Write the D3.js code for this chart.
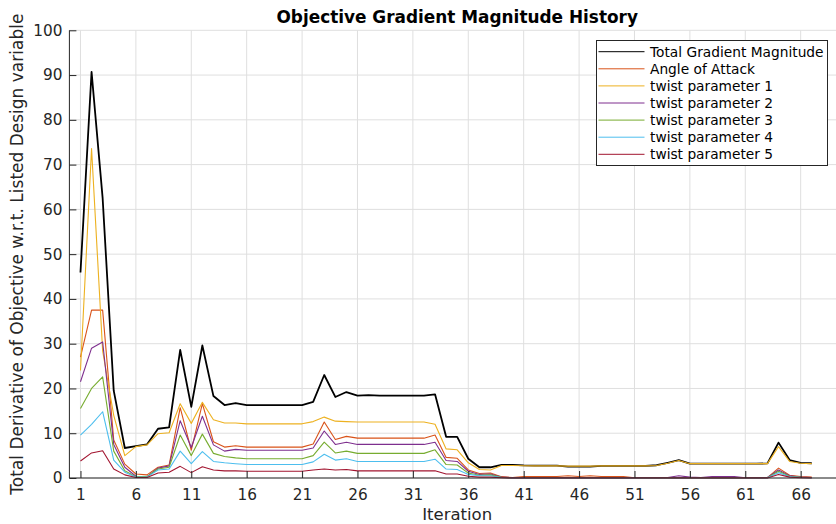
<!DOCTYPE html>
<html>
<head>
<meta charset="utf-8">
<script src="https://cdn.jsdelivr.net/npm/d3@7"></script>
<style>
  html, body { margin: 0; padding: 0; background: #fff; }
  svg { display: block; }
  text { font-family: "DejaVu Sans", sans-serif; }
</style>
</head>
<body>
<svg id="chart" width="836" height="524"></svg>
<script>
// Optimisation history: gradient of the objective per design variable
const iterations = [
  1, 2, 3, 4, 5, 6, 7, 8, 9, 10, 11, 12, 13, 14, 15, 16, 17, 18, 19, 20,
  21, 22, 23, 24, 25, 26, 27, 28, 29, 30, 31, 32, 33, 34, 35, 36, 37, 38, 39, 40,
  41, 42, 43, 44, 45, 46, 47, 48, 49, 50, 51, 52, 53, 54, 55, 56, 57, 58, 59, 60,
  61, 62, 63, 64, 65, 66, 67
];

const totalGradient = [
  45.9, 90.7, 62.5, 19.5, 6.7, 7.1, 7.5, 11.0, 11.3, 28.6,
  15.9, 29.6, 18.3, 16.3, 16.7, 16.3, 16.3, 16.3, 16.3, 16.3,
  16.3, 17.0, 23.0, 18.1, 19.2, 18.4, 18.5, 18.4, 18.4, 18.4,
  18.4, 18.4, 18.7, 9.2, 9.2, 4.3, 2.4, 2.4, 2.95, 2.95,
  2.8, 2.75, 2.75, 2.75, 2.55, 2.55, 2.55, 2.7, 2.7, 2.7,
  2.7, 2.7, 2.85, 3.4, 4.0, 3.2, 3.2, 3.2, 3.2, 3.2,
  3.2, 3.2, 3.25, 7.9, 4.0, 3.4, 3.3
];

const angleOfAttack = [
  27.0, 37.5, 37.5, 8.5, 3.1, 0.9, 0.7, 2.4, 2.9, 15.7,
  6.2, 16.6, 8.1, 6.9, 7.2, 6.9, 6.9, 6.9, 6.9, 6.9,
  6.9, 7.6, 12.5, 8.6, 9.3, 8.9, 8.9, 8.9, 8.9, 8.9,
  8.9, 8.9, 9.6, 4.6, 4.4, 1.8, 1.0, 1.1, 0.3, 0.1,
  0.3, 0.3, 0.35, 0.35, 0.5, 0.35, 0.5, 0.35, 0.3, 0.3,
  0.05, 0.05, 0.05, 0.05, 0.1, 0.05, 0.05, 0.05, 0.05, 0.05,
  0.05, 0.05, 0.1, 2.2, 0.6, 0.3, 0.2
];

const twist1 = [
  24.0, 73.6, 28.4, 14.0, 5.0, 7.0, 7.4, 9.9, 10.1, 16.6,
  12.2, 16.9, 13.0, 12.3, 12.3, 12.1, 12.1, 12.1, 12.1, 12.1,
  12.1, 12.6, 13.6, 12.7, 12.6, 12.5, 12.5, 12.5, 12.5, 12.5,
  12.5, 12.5, 12.0, 6.5, 6.3, 3.4, 1.9, 1.8, 2.8, 2.8,
  2.75, 2.7, 2.7, 2.7, 2.65, 2.65, 2.65, 2.7, 2.7, 2.7,
  2.7, 2.7, 2.8, 3.3, 3.9, 3.2, 3.2, 3.2, 3.2, 3.2,
  3.2, 3.2, 3.2, 7.0, 3.7, 3.3, 3.2
];

const twist2 = [
  21.5, 29.0, 30.4, 7.5, 2.4, 0.4, 0.3, 2.2, 2.7, 12.8,
  6.8, 13.8, 7.4, 6.0, 6.4, 6.2, 6.2, 6.2, 6.2, 6.2,
  6.2, 6.7, 10.5, 7.5, 8.0, 7.5, 7.5, 7.5, 7.5, 7.5,
  7.5, 7.5, 8.0, 3.9, 3.7, 1.5, 0.8, 0.9, 0.2, 0.05,
  0.05, 0.05, 0.05, 0.05, 0.05, 0.05, 0.05, 0.05, 0.05, 0.05,
  0.05, 0.05, 0.05, 0.1, 0.5, 0.2, 0.1, 0.3, 0.3, 0.3,
  0.05, 0.05, 0.1, 1.8, 0.5, 0.2, 0.1
];

const twist3 = [
  15.5, 20.0, 22.6, 6.0, 1.6, 0.3, 0.3, 2.0, 2.4, 9.6,
  5.0, 9.8, 5.5, 4.8, 4.5, 4.3, 4.3, 4.3, 4.3, 4.3,
  4.3, 5.0, 8.0, 5.6, 6.0, 5.5, 5.5, 5.5, 5.5, 5.5,
  5.5, 5.5, 6.3, 3.0, 2.9, 1.1, 0.6, 0.7, 0.15, 0.05,
  0.05, 0.05, 0.05, 0.05, 0.05, 0.05, 0.05, 0.05, 0.05, 0.05,
  0.05, 0.05, 0.05, 0.05, 0.05, 0.05, 0.05, 0.05, 0.05, 0.05,
  0.05, 0.05, 0.05, 1.5, 0.4, 0.15, 0.1
];

const twist4 = [
  9.6, 12.0, 14.8, 4.0, 1.3, 0.2, 0.2, 1.8, 2.0, 6.0,
  3.2, 5.9, 3.7, 3.4, 3.2, 3.0, 3.0, 3.0, 3.0, 3.0,
  3.0, 3.6, 5.3, 4.0, 4.3, 3.7, 3.7, 3.7, 3.7, 3.7,
  3.7, 3.7, 4.2, 2.0, 1.9, 0.8, 0.5, 0.5, 0.1, 0.03,
  0.03, 0.03, 0.03, 0.03, 0.03, 0.03, 0.03, 0.03, 0.03, 0.03,
  0.03, 0.03, 0.03, 0.03, 0.03, 0.03, 0.03, 0.03, 0.03, 0.03,
  0.03, 0.03, 0.03, 1.2, 0.3, 0.1, 0.05
];

const twist5 = [
  3.8, 5.6, 6.1, 2.0, 0.7, 0.1, 0.1, 1.1, 1.3, 2.6,
  1.2, 2.5, 1.8, 1.6, 1.6, 1.5, 1.5, 1.5, 1.5, 1.5,
  1.5, 1.8, 2.0, 1.8, 1.9, 1.6, 1.6, 1.6, 1.6, 1.6,
  1.6, 1.6, 1.6, 0.9, 0.9, 0.4, 0.2, 0.2, 0.05, 0.02,
  0.02, 0.02, 0.02, 0.02, 0.02, 0.02, 0.02, 0.02, 0.02, 0.02,
  0.02, 0.02, 0.02, 0.02, 0.02, 0.02, 0.02, 0.02, 0.02, 0.02,
  0.02, 0.02, 0.02, 0.8, 0.2, 0.05, 0.02
];

const seriesNames = [
  "Total Gradient Magnitude", "Angle of Attack", "twist parameter 1",
  "twist parameter 2", "twist parameter 3", "twist parameter 4", "twist parameter 5"
];
const seriesValues = [totalGradient, angleOfAttack, twist1, twist2, twist3, twist4, twist5];
const seriesColors = ["#000000", "#D95319", "#EDB120", "#7E2F8E", "#77AC30", "#4DBEEE", "#A2142F"];
const seriesWidths = [1.8, 1.1, 1.1, 1.1, 1.1, 1.1, 1.1];

const xTicks = [1, 6, 11, 16, 21, 26, 31, 36, 41, 46, 51, 56, 61, 66];
const yTicks = [0, 10, 20, 30, 40, 50, 60, 70, 80, 90, 100];

const titleText = "Objective Gradient Magnitude History";
const xLabelText = "Iteration";
const yLabelText = "Total Derivative of Objective w.r.t. Listed Design variable";

// ---- layout ----
const plot = { left: 69.4, right: 845, top: 30.3, bottom: 478 };
const axisColor = "#262626";
const gridColor = "#dfdfdf";
const tickLen = 7;

const svg = d3.select("#chart");

const x = d3.scaleLinear().domain([0, 70]).range([plot.left, plot.right]);
const y = d3.scaleLinear().domain([0, 100]).range([plot.bottom, plot.top]);

// grid
const grid = svg.append("g").attr("class", "grid");
grid.selectAll("line.gx").data(xTicks).join("line")
  .attr("x1", d => x(d)).attr("x2", d => x(d))
  .attr("y1", plot.top).attr("y2", plot.bottom)
  .attr("stroke", gridColor).attr("stroke-width", 1);
grid.selectAll("line.gy").data(yTicks).join("line")
  .attr("x1", plot.left).attr("x2", plot.right)
  .attr("y1", d => y(d)).attr("y2", d => y(d))
  .attr("stroke", gridColor).attr("stroke-width", 1);

// series
const line = d3.line()
  .x((d, i) => x(iterations[i]))
  .y(d => y(d));

svg.append("g").attr("class", "series")
  .selectAll("path").data(seriesValues).join("path")
  .attr("d", d => line(d))
  .attr("fill", "none")
  .attr("stroke", (d, i) => seriesColors[i])
  .attr("stroke-width", (d, i) => seriesWidths[i])
  .attr("stroke-linejoin", "round");

// axes (ticks point inward)
const xAxis = d3.axisBottom(x).tickValues(xTicks).tickSize(0).tickPadding(11);
const gx = svg.append("g").attr("transform", `translate(0,${plot.bottom})`).call(xAxis);
gx.select(".domain").attr("stroke", axisColor).attr("d", `M${plot.left},0H${plot.right}`);
gx.selectAll(".tick line").remove();
gx.selectAll(".tick").append("line")
  .attr("y1", 0).attr("y2", -tickLen).attr("stroke", axisColor);
gx.selectAll(".tick text")
  .attr("fill", axisColor).attr("font-size", "15.3px")
  .attr("font-family", "DejaVu Sans");

const yAxis = d3.axisLeft(y).tickValues(yTicks).tickSize(0).tickPadding(7);
const gy = svg.append("g").attr("transform", `translate(${plot.left},0)`).call(yAxis);
gy.select(".domain").attr("stroke", axisColor).attr("d", `M0,${plot.top}V${plot.bottom}`);
gy.selectAll(".tick line").remove();
gy.selectAll(".tick").append("line")
  .attr("x1", 0).attr("x2", tickLen).attr("stroke", axisColor);
gy.selectAll(".tick text")
  .attr("fill", axisColor).attr("font-size", "15.3px")
  .attr("font-family", "DejaVu Sans");

// labels
const midX = (plot.left + plot.right) / 2;
svg.append("text")
  .attr("x", midX).attr("y", 23)
  .attr("text-anchor", "middle")
  .attr("font-size", "16.9px").attr("font-weight", "bold")
  .attr("fill", "#000")
  .text(titleText);

svg.append("text")
  .attr("x", midX).attr("y", 520)
  .attr("text-anchor", "middle")
  .attr("font-size", "16.5px")
  .attr("fill", axisColor)
  .text(xLabelText);

svg.append("text")
  .attr("transform", `translate(23,${(plot.top + plot.bottom) / 2}) rotate(-90)`)
  .attr("text-anchor", "middle")
  .attr("font-size", "17px")
  .attr("fill", axisColor)
  .text(yLabelText);

// legend
const legend = svg.append("g").attr("class", "legend");
const lg = { x: 596.5, y: 40.5, w: 231, h: 125, row0: 51.7, rowStep: 17.1 };
legend.append("rect")
  .attr("x", lg.x).attr("y", lg.y).attr("width", lg.w).attr("height", lg.h)
  .attr("fill", "#fff").attr("stroke", axisColor).attr("stroke-width", 1);
const rows = legend.selectAll("g.row").data(seriesNames).join("g")
  .attr("transform", (d, i) => `translate(0,${lg.row0 + i * lg.rowStep})`);
rows.append("line")
  .attr("x1", lg.x + 2).attr("x2", lg.x + 48)
  .attr("stroke", (d, i) => seriesColors[i])
  .attr("stroke-width", 1);
rows.append("text")
  .attr("x", lg.x + 53.5).attr("y", 0)
  .attr("dy", "0.36em")
  .attr("font-size", "13.75px")
  .attr("fill", "#000")
  .text(d => d);
</script>
</body>
</html>
